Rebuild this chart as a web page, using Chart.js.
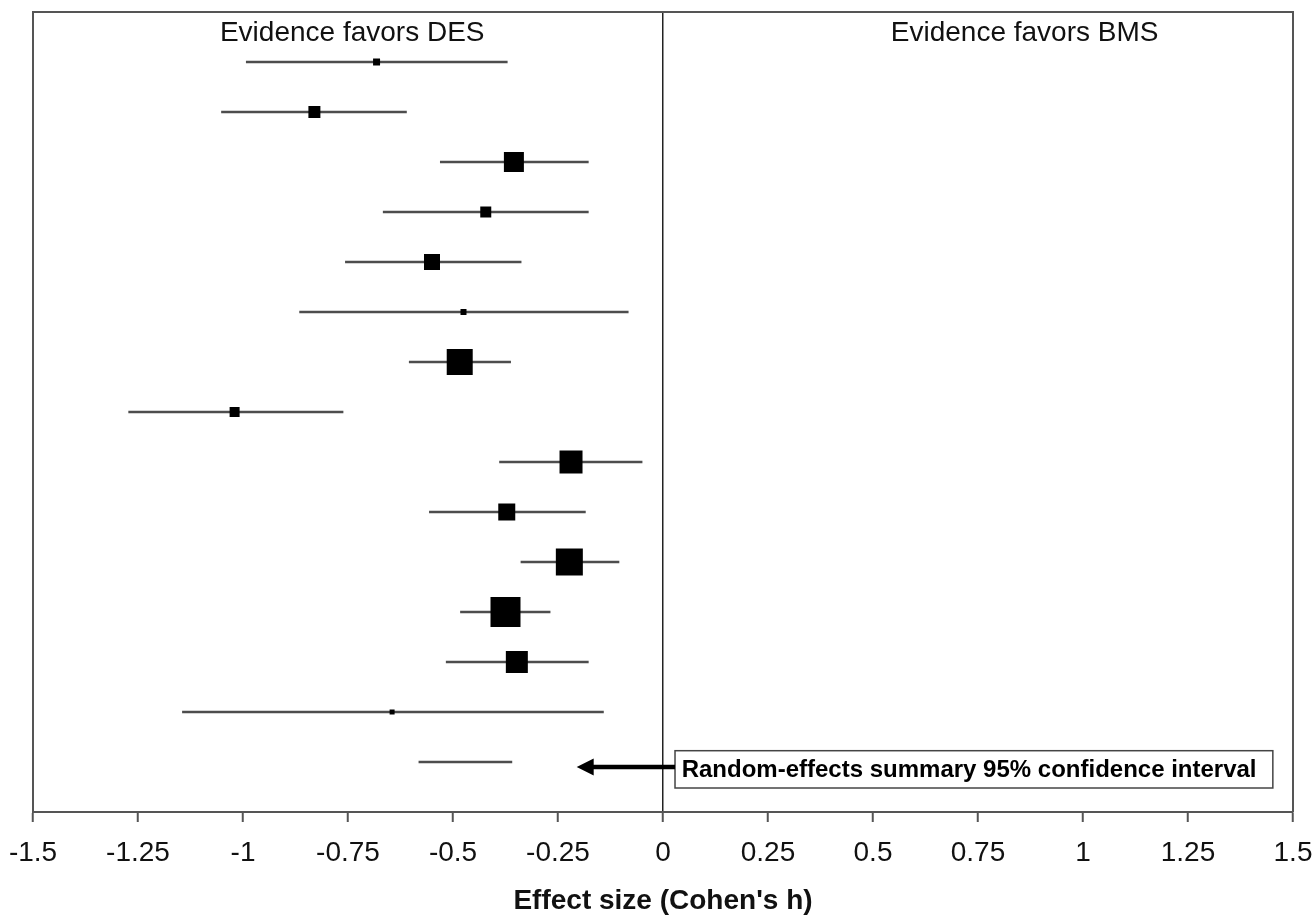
<!DOCTYPE html>
<html><head><meta charset="utf-8">
<script src="https://cdn.jsdelivr.net/npm/chart.js@4"></script>
<style>html,body{margin:0;padding:0;background:#fff}#wrap{width:1315px;height:915px}</style>
</head><body><div id="wrap"><canvas id="c" width="1315" height="915"></canvas></div>
<script>
// ---- data ----
const rows    = [1, 2, 3, 4, 5, 6, 7, 8, 9, 10, 11, 12, 13, 14, 15];
const effect  = [-0.682, -0.830, -0.355, -0.422, -0.550, -0.475, -0.484, -1.020, -0.219, -0.372, -0.223, -0.375, -0.348, -0.645, null];
const ciLow   = [-0.993, -1.052, -0.531, -0.667, -0.757, -0.866, -0.605, -1.273, -0.390, -0.557, -0.339, -0.483, -0.517, -1.145, -0.582];
const ciHigh  = [-0.370, -0.610, -0.177, -0.177, -0.337, -0.082, -0.362, -0.761, -0.049, -0.184, -0.104, -0.268, -0.177, -0.141, -0.359];
const weight  = [7, 12, 20, 11, 16, 6, 26, 10, 23, 17, 27, 30, 22, 5, 0];
const xTicks      = [-1.5, -1.25, -1, -0.75, -0.5, -0.25, 0, 0.25, 0.5, 0.75, 1, 1.25, 1.5];
const xTickLabels = ['-1.5', '-1.25', '-1', '-0.75', '-0.5', '-0.25', '0', '0.25', '0.5', '0.75', '1', '1.25', '1.5'];
const xTitle = "Effect size (Cohen's h)";
const leftNote = 'Evidence favors DES';
const rightNote = 'Evidence favors BMS';
const summaryNote = 'Random-effects summary 95% confidence interval';

const FONT = "'Liberation Sans', Arial, sans-serif";

const markerData = [];
const markerRadius = [];
rows.forEach((r, i) => {
  if (effect[i] !== null) {
    markerData.push({x: effect[i], y: r});
    markerRadius.push(weight[i] / Math.SQRT2);
  }
});

const datasets = [{
  type: 'scatter',
  data: markerData,
  pointStyle: 'rect',
  pointRadius: markerRadius,
  pointHoverRadius: markerRadius,
  backgroundColor: '#000',
  borderWidth: 0,
  order: 0
}];
rows.forEach((r, i) => {
  datasets.push({
    type: 'line',
    data: [{x: ciLow[i], y: r}, {x: ciHigh[i], y: r}],
    borderColor: '#4d4d4d',
    borderWidth: 2.5,
    pointRadius: 0,
    fill: false,
    order: 1
  });
});

const deco = {
  id: 'deco',
  afterDraw(chart) {
    const {ctx, chartArea: a, scales: {x, y}} = chart;
    ctx.save();
    // top & right frame
    ctx.strokeStyle = '#555';
    ctx.lineWidth = 2;
    ctx.beginPath();
    ctx.moveTo(a.left, a.top); ctx.lineTo(a.right, a.top); ctx.lineTo(a.right, a.bottom);
    ctx.stroke();
    // header notes
    ctx.fillStyle = '#111';
    ctx.font = '28px ' + FONT;
    ctx.textAlign = 'center';
    ctx.textBaseline = 'alphabetic';
    ctx.fillText(leftNote, x.getPixelForValue(-0.74), y.getPixelForValue(0.58));
    ctx.fillText(rightNote, x.getPixelForValue(0.861), y.getPixelForValue(0.58));
    // summary box
    const bx0 = x.getPixelForValue(0.0286), bx1 = x.getPixelForValue(1.452);
    const by0 = y.getPixelForValue(14.774), by1 = y.getPixelForValue(15.52);
    ctx.fillStyle = '#fff';
    ctx.fillRect(bx0, by0, bx1 - bx0, by1 - by0);
    ctx.strokeStyle = '#444';
    ctx.lineWidth = 1.5;
    ctx.strokeRect(bx0, by0, bx1 - bx0, by1 - by0);
    ctx.fillStyle = '#000';
    ctx.font = 'bold 24px ' + FONT;
    ctx.textAlign = 'left';
    ctx.fillText(summaryNote, x.getPixelForValue(0.0445), y.getPixelForValue(15.3));
    // arrow
    const ay = y.getPixelForValue(15.1);
    const tip = x.getPixelForValue(-0.2055);
    ctx.strokeStyle = '#000';
    ctx.lineWidth = 4.5;
    ctx.beginPath();
    ctx.moveTo(bx0, ay); ctx.lineTo(tip + 14, ay);
    ctx.stroke();
    ctx.fillStyle = '#000';
    ctx.beginPath();
    ctx.moveTo(tip, ay); ctx.lineTo(tip + 17, ay - 8.5); ctx.lineTo(tip + 17, ay + 8.5); ctx.closePath();
    ctx.fill();
    ctx.restore();
  }
};

new Chart(document.getElementById('c'), {
  data: {datasets},
  plugins: [deco],
  options: {
    responsive: false,
    animation: false,
    events: [],
    layout: {autoPadding: false, padding: {left: 33, top: 12, right: 22, bottom: 0}},
    plugins: {legend: {display: false}, tooltip: {enabled: false}},
    scales: {
      x: {
        type: 'linear',
        min: -1.5, max: 1.5,
        afterBuildTicks: s => { s.ticks = xTicks.map(v => ({value: v})); },
        afterFit: s => { s.paddingLeft = 0; s.paddingRight = 0; },
        ticks: {
          callback: v => xTickLabels[xTicks.indexOf(v)],
          color: '#111',
          font: {family: FONT, size: 28},
          padding: 14,
          maxRotation: 0,
          autoSkip: false
        },
        grid: {
          color: c => (c.tick && c.tick.value === 0) ? '#222' : 'rgba(0,0,0,0)',
          lineWidth: 1.5,
          tickColor: '#555',
          tickWidth: 2,
          tickLength: 10,
          drawTicks: true
        },
        border: {display: true, color: '#555', width: 2},
        title: {
          display: true,
          text: xTitle,
          color: '#111',
          font: {family: FONT, size: 28, weight: 'bold', lineHeight: 1},
          padding: {top: 3.4, bottom: 0}
        }
      },
      y: {
        type: 'linear',
        min: 0, max: 16,
        reverse: true,
        afterFit: s => { s.width = 0; s.paddingTop = 0; s.paddingBottom = 0; },
        ticks: {display: false},
        grid: {display: false, drawTicks: false},
        border: {display: true, color: '#555', width: 2}
      }
    }
  }
});
</script>
</body></html>
